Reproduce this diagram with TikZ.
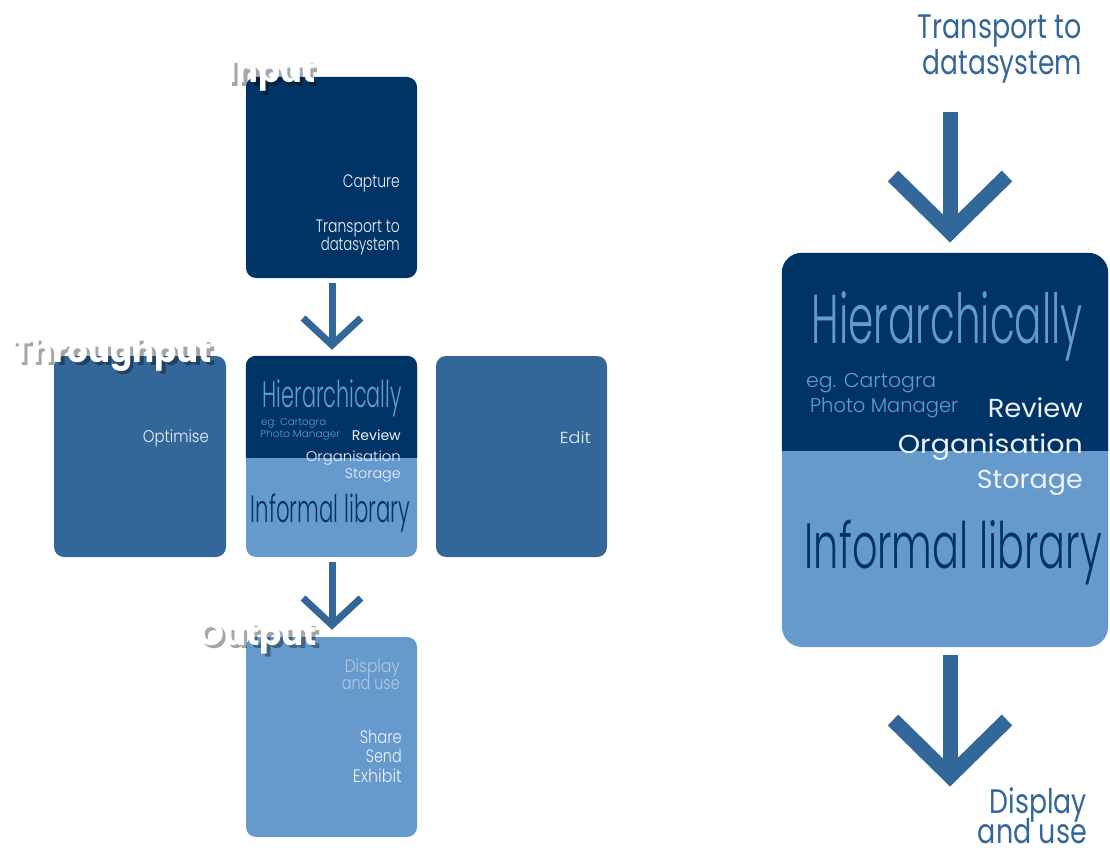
\documentclass[tikz,border=0pt]{standalone}
\usepackage{fontspec}
\usepackage{graphicx}
\setmainfont{Poppins Light}
\newfontfamily\labfont{Poppins}
\newfontfamily\regfont{Poppins}
\definecolor{navy}{HTML}{003366}
\definecolor{midblue}{HTML}{336699}
\definecolor{lightblue}{HTML}{6699CC}
\definecolor{paletext}{HTML}{EEF2F8}
\definecolor{mutedtext}{HTML}{B3CAE3}

% size, target width, text
\newcommand\fitw[3]{\fontsize{#1}{#1}\selectfont\resizebox{#2pt}{\height}{#3}}

% white lettering with a drop shadow below right
\newcommand\embossed[1]{%
  \rlap{\pgfsetfillopacity{0.35}\color{black}\hspace*{3.5pt}\raisebox{-3.5pt}{#1}}%
  \pgfsetfillopacity{1}\color{white}#1}

\tikzset{
  panel/.style={rounded corners=10pt, inner sep=0pt, draw=none},
  lbl/.style={inner sep=0pt, anchor=base east},
  lbll/.style={inner sep=0pt, anchor=base west},
  flow/.style={draw=midblue, line width=#1, line join=miter},
  stagelbl/.style={inner sep=0pt, anchor=base west, font=\labfont\bfseries},
}

\begin{document}
\begin{tikzpicture}[x=1pt, y=-1pt]
\useasboundingbox (0,0) rectangle (1110,853);

% ---------- left column: stage panels ----------
\node[panel, fill=navy, minimum width=171pt, minimum height=201pt] (inbox) at (331.5,177.5) {};
\node[panel, fill=midblue, minimum width=172pt, minimum height=201pt] (optbox) at (140,456.5) {};
\node[panel, fill=lightblue, minimum width=171pt, minimum height=201pt] (midbox) at (331.5,456.5) {};
\begin{scope}
  \clip (240,350) rectangle (425,457);
  \fill[navy, rounded corners=10pt] (midbox.north west) rectangle (midbox.south east);
\end{scope}
\node[panel, fill=midblue, minimum width=171pt, minimum height=201pt] (editbox) at (521.5,456.5) {};
\node[panel, fill=lightblue, minimum width=171pt, minimum height=200pt] (outbox) at (331.5,737) {};

% input panel text
\node[lbl, text=paletext] (capture) at (400,188) {\fitw{18}{57}{Capture}};
\node[lbl, text=paletext] (trans1) at (400,232) {\fitw{18}{84}{Transport to}};
\node[lbl, text=paletext] (trans2) at (400,250) {\fitw{18}{79}{datasystem}};

% side panels
\node[lbl, text=paletext] (optimise) at (209,442) {\fitw{17}{66}{Optimise}};
\node[lbl, text=paletext] (edit) at (591,443) {\fitw{16}{31}{Edit}};

% middle panel text
\node[lbl, text=lightblue] (hier) at (402,407) {\fitw{37}{139}{Hierarchically}};
\node[lbll, text=lightblue] (eg) at (261,425) {\fitw{10}{65}{eg. Cartogra}};
\node[lbll, text=lightblue] (pm) at (260,437) {\fitw{10}{80}{Photo Manager}};
\node[lbl, text=paletext] (review) at (401,440) {\fitw{14}{49}{\regfont Review}};
\node[lbl, text=paletext] (organ) at (401,461) {\fitw{14}{95}{Organisation}};
\node[lbl, text=paletext] (stor) at (401,478) {\fitw{14}{56}{Storage}};
\node[lbl, text=navy] (inf) at (410,522) {\fitw{38}{159}{Informal library}};

% output panel text
\node[lbl, text=mutedtext] (disp) at (400,672) {\fitw{18}{55}{Display}};
\node[lbl, text=mutedtext] (anduse) at (400,689) {\fitw{18}{58}{and use}};
\node[lbl, text=paletext] (share) at (402,743) {\fitw{18}{42}{Share}};
\node[lbl, text=paletext] (send) at (402,762) {\fitw{18}{36}{Send}};
\node[lbl, text=paletext] (exhibit) at (402,782) {\fitw{18}{49}{Exhibit}};

% small arrows between panels
\coordinate (a1top) at (332,283);
\coordinate (a1tip) at (332,345);
\coordinate (a2top) at (332,562);
\coordinate (a2tip) at (332,625);
\draw[flow=7pt] (a1top) -- (a1tip);
\draw[flow=7pt] ([shift={(-29,-27)}]a1tip) -- (a1tip) -- ([shift={(29,-27)}]a1tip);
\draw[flow=7pt] (a2top) -- (a2tip);
\draw[flow=7pt] ([shift={(-29,-27)}]a2tip) -- (a2tip) -- ([shift={(29,-27)}]a2tip);

% stage labels
\node[stagelbl] (inputlab) at (227,83) {\fitw{33}{88}{\embossed{Input}}};
\node[stagelbl] (thrlab) at (12,362) {\fitw{33}{200}{\embossed{Throughput}}};
\node[stagelbl] (outlab) at (198,645) {\fitw{32}{119}{\embossed{Output}}};

% ---------- right column: enlarged library panel ----------
\node[lbl, text=midblue] (rtrans1) at (1082,39) {\fitw{34}{164}{\regfont Transport to}};
\node[lbl, text=midblue] (rtrans2) at (1082,75) {\fitw{34}{159}{\regfont datasystem}};

\node[panel, rounded corners=20pt, fill=lightblue, minimum width=326pt, minimum height=394pt] (bigbox) at (945,450) {};
\begin{scope}
  \clip (770,240) rectangle (1110,450);
  \fill[navy, rounded corners=20pt] (bigbox.north west) rectangle (bigbox.south east);
\end{scope}

\node[lbl, text=lightblue] (bhier) at (1083,343) {\fitw{69}{271}{Hierarchically}};
\node[lbll, text=lightblue] (beg) at (806,387) {\fitw{20}{130}{eg. Cartogra}};
\node[lbll, text=lightblue] (bpm) at (810,412) {\fitw{20}{148}{Photo Manager}};
\node[lbl, text=paletext] (breview) at (1083,417) {\fitw{26}{95}{\regfont Review}};
\node[lbl, text=paletext] (borgan) at (1083,453) {\fitw{26}{185}{\regfont Organisation}};
\node[lbl, text=paletext] (bstor) at (1083,488) {\fitw{26}{106}{\regfont Storage}};
\node[lbl, text=navy] (binf) at (1102,568) {\fitw{64}{297}{Informal library}};

\node[lbl, text=midblue] (rdisp) at (1087,813) {\fitw{34}{97}{\regfont Display}};
\node[lbl, text=midblue] (randuse) at (1087,843) {\fitw{34}{109}{\regfont and use}};

% large arrows
\coordinate (a3top) at (950,112);
\coordinate (a3tip) at (950,232);
\coordinate (a4top) at (950,655);
\coordinate (a4tip) at (950,776);
\draw[flow=15pt] (a3top) -- (a3tip);
\draw[flow=15pt] ([shift={(-57,-56)}]a3tip) -- (a3tip) -- ([shift={(57,-56)}]a3tip);
\draw[flow=15pt] (a4top) -- (a4tip);
\draw[flow=15pt] ([shift={(-57,-56)}]a4tip) -- (a4tip) -- ([shift={(57,-56)}]a4tip);
\end{tikzpicture}
\end{document}
